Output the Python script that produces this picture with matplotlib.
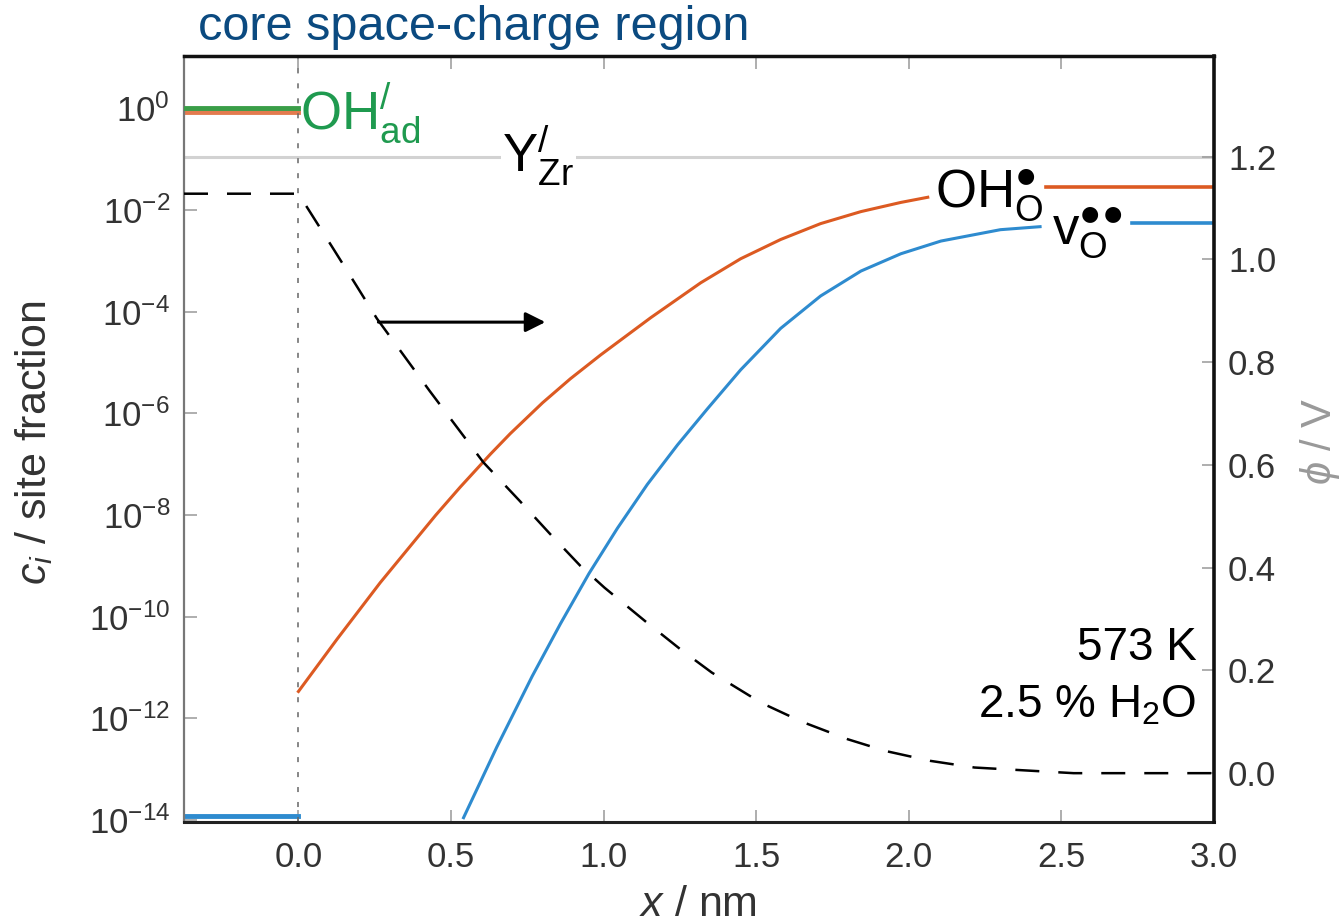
import matplotlib

matplotlib.use("Agg")
import matplotlib.pyplot as plt  # noqa: E402
from matplotlib.ticker import FormatStrFormatter, NullLocator  # noqa: E402

plt.rcParams.update({
    "font.family": ["Liberation Sans", "DejaVu Sans"],
    "mathtext.fontset": "custom", "mathtext.rm": "Liberation Sans",
    "mathtext.it": "Liberation Sans:italic", "mathtext.bf": "Liberation Sans:bold",
    "mathtext.sf": "Liberation Sans",
})
ORANGE, BLUE, GREEN_LN, GREEN_TX = "#dc5a22", "#2e8bcf", "#3a9e48", "#1f9a4f"
NAVY, GRAYLN = "#0b4a80", "#d2d2d2"

# protonic defect OH_O (site fraction) vs x / nm
oh_x = [0.0, 0.126, 0.268, 0.45, 0.53, 0.629, 0.694, 0.8, 0.891, 0.99, 1.154, 1.318,
        1.449, 1.58, 1.711, 1.843, 1.974, 2.062]
oh_c = [3.4e-12, 3.6e-11, 4.7e-10, 1.0e-8, 3.55e-8, 1.58e-7, 4.0e-7, 1.62e-6, 4.8e-6,
        1.41e-5, 7.6e-5, 3.7e-4, 1.1e-3, 2.63e-3, 5.4e-3, 9.3e-3, 1.41e-2, 1.78e-2]
oh_bulk_x, oh_bulk_c = [2.45, 3.0], [0.0282, 0.0282]

# oxygen vacancy v_O
vo_x = [0.541, 0.65, 0.766, 0.859, 0.952, 1.045, 1.143, 1.242, 1.34, 1.449, 1.58, 1.711,
        1.843, 1.974, 2.105, 2.3, 2.43]
vo_c = [1.12e-14, 2.75e-13, 6.8e-12, 7.4e-11, 7.1e-10, 5.5e-9, 4.0e-8, 2.4e-7, 1.23e-6,
        7.2e-6, 4.7e-5, 2.04e-4, 6.3e-4, 1.38e-3, 2.45e-3, 4.1e-3, 4.7e-3]
vo_bulk_x, vo_bulk_c = [2.73, 3.0], [5.5e-3, 5.5e-3]

# core (x < 0) site fractions
core_x = [-0.375, 0.0]
core_ohad, core_oh, core_vo = 1.0, 0.85, 1.2e-14
y_zr = 0.109

# electrostatic potential phi / V (right axis)
phi_x = [-0.375, 0.0, 0.113, 0.19, 0.257, 0.43, 0.606, 0.725, 0.824, 0.923, 1.003, 1.14,
         1.254, 1.354, 1.516, 1.65, 1.80, 1.925, 2.07, 2.215, 2.54, 3.0]
phi_v = [1.128, 1.128, 1.022, 0.949, 0.885, 0.744, 0.605, 0.530, 0.466, 0.404, 0.361, 0.294,
         0.240, 0.196, 0.137, 0.10, 0.066, 0.043, 0.024, 0.011, 0.0, 0.0]

fig = plt.figure(figsize=(13.44, 9.23), dpi=100)
ax = fig.add_axes([0.1369, 0.1089, 0.7664, 0.8304])
ax2 = ax.twinx()

ax.axhline(y_zr, color=GRAYLN, lw=2.2, zorder=1)
ax.plot(core_x, [core_ohad] * 2, color=GREEN_LN, lw=3.5, zorder=3)
ax.plot(core_x, [core_oh] * 2, color=ORANGE, lw=3.5, alpha=0.8, zorder=2)
ax.plot(core_x, [core_vo] * 2, color=BLUE, lw=3.5, zorder=2)
ax.plot(oh_x, oh_c, color=ORANGE, lw=2.2, zorder=2)
ax.plot(oh_bulk_x, oh_bulk_c, color=ORANGE, lw=2.6, zorder=2)
ax.plot(vo_x, vo_c, color=BLUE, lw=2.2, zorder=2)
ax.plot(vo_bulk_x, vo_bulk_c, color=BLUE, lw=2.6, zorder=2)
ax.axvline(0.0, color="#666", lw=1.1, ls=(0, (3.3, 6.5)), zorder=2)

ax.set_yscale("log")
ax.set_xlim(-0.375, 3.0)
ax.set_ylim(10 ** -14.045, 10 ** 1.028)
ax.set_yticks([10.0 ** k for k in range(-14, 1, 2)])
ax.yaxis.set_minor_locator(NullLocator())
ax.set_xticks([0.0, 0.5, 1.0, 1.5, 2.0, 2.5, 3.0])
ax.xaxis.set_major_formatter(FormatStrFormatter("%.1f"))
ax.tick_params(direction="in", length=9, width=1.1, color="#999", labelsize=25,
               labelcolor="#333", top=True, right=False)
ax.tick_params(axis="x", pad=13)
ax.tick_params(axis="y", pad=10)

ax2.plot(phi_x, phi_v, color="black", lw=1.8, ls=(0, (9.6, 7.6)), zorder=3)
ax2.annotate("", xy=(0.809, 0.878), xytext=(0.262, 0.878),
             arrowprops=dict(arrowstyle="-|>", color="black", lw=2.2, mutation_scale=30,
                             shrinkA=0, shrinkB=0))
ax2.set_ylim(-0.096, 1.396)
ax2.set_yticks([0.0, 0.2, 0.4, 0.6, 0.8, 1.0, 1.2])
ax2.yaxis.set_major_formatter(FormatStrFormatter("%.1f"))
ax2.tick_params(direction="in", length=9, width=1.1, color="#999", labelsize=25,
                labelcolor="#333", pad=10)

for s in ("left", "top", "bottom"):
    ax2.spines[s].set_visible(False)
ax.spines["right"].set_visible(False)
ax.spines["left"].set_color("#777")
ax.spines["left"].set_linewidth(1.6)
ax.spines["bottom"].set_color("#222")
ax.spines["bottom"].set_linewidth(2.2)
ax.spines["top"].set_color("#111")
ax.spines["top"].set_linewidth(2.5)
ax2.spines["right"].set_color("#111")
ax2.spines["right"].set_linewidth(2.6)

# species labels
ax.text(0.006, 10 ** -0.427, r"$\mathrm{OH}_{\mathrm{ad}}^{/}$", color=GREEN_TX,
        fontsize=38, va="baseline", zorder=4)
ax.text(0.668, 10 ** -1.255, r"$\mathrm{Y}_{\mathrm{Zr}}^{/}$", color="black",
        fontsize=38, va="baseline", zorder=4,
        bbox=dict(facecolor="white", edgecolor="none", pad=1))
ax.text(2.087, 10 ** -1.94, "$\\mathrm{OH}_{\\mathrm{O}}^{\u25cf}$", color="black",
        fontsize=38, va="baseline", zorder=4)
ax.text(2.47, 10 ** -2.69, "$\\mathrm{v}_{\\mathrm{O}}^{\u25cf\u25cf}$", color="black",
        fontsize=38, va="baseline", zorder=4)
ax.text(2.943, 10 ** -10.84, "573 K", fontsize=33, ha="right", va="baseline")
ax.text(2.943, 10 ** -11.98, "2.5 % H$_2$O", fontsize=33, ha="right", va="baseline")

fig.text(0.147, 1 - 40 / 923, "core space-charge region", color=NAVY, fontsize=35,
         va="baseline")
fig.text(34 / 1344, 1 - 443 / 923, r"$c_i$ / site fraction", rotation=90, fontsize=31,
         color="#333", ha="center", va="center")
fig.text(1320 / 1344, 1 - 441 / 923, r"$\phi$ / V", rotation=90, fontsize=30,
         color="#999", ha="center", va="center")
fig.text(698 / 1344, 1 - 916 / 923, r"$x$ / nm", fontsize=31, color="#333",
         ha="center", va="baseline")

fig.savefig("out.png", dpi=100)
